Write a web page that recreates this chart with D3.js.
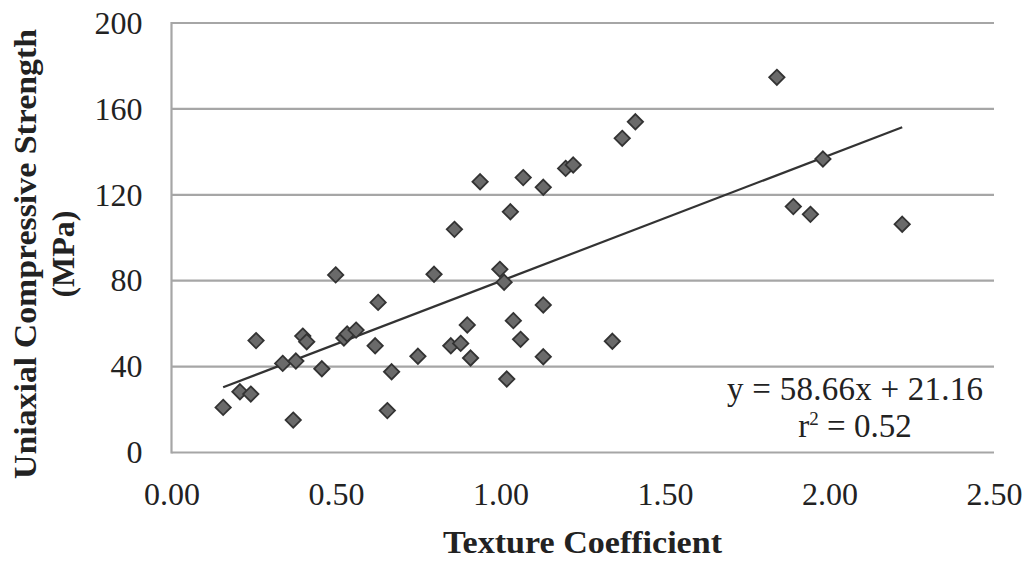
<!DOCTYPE html>
<html><head><meta charset="utf-8">
<script src="https://cdn.jsdelivr.net/npm/d3@7"></script>
<style>body{margin:0;background:#fff}svg{display:block}</style>
</head><body>
<svg id="c" width="1028" height="561"></svg>
<script>
const texture = [0.157,0.208,0.241,0.257,0.338,0.370,0.378,0.399,0.411,0.457,0.499,0.524,0.534,0.561,0.619,0.628,0.656,0.669,0.749,0.798,0.849,0.860,0.879,0.899,0.909,0.938,0.998,1.011,1.019,1.030,1.039,1.061,1.069,1.130,1.130,1.130,1.198,1.221,1.340,1.370,1.410,1.840,1.890,1.942,1.980,2.221];
const ucs = [21.0,28.3,27.2,52.1,41.5,15.1,42.6,54.2,51.6,39.0,82.7,53.3,55.2,57.0,49.7,69.9,19.5,37.6,44.8,83.0,49.7,103.9,50.8,59.4,44.0,126.1,85.3,79.3,34.2,112.1,61.4,52.7,128.0,123.5,68.7,44.6,132.3,133.9,51.8,146.3,154.0,174.7,114.5,110.9,136.7,106.3];
const xTicks = [0,0.5,1,1.5,2,2.5];
const yTicks = [0,40,80,120,160,200];
const slope = 58.66, intercept = 21.16;
const eqText = "y = 58.66x + 21.16";
const r2Text = "0.52";

const svg = d3.select("#c");
const x = d3.scaleLinear().domain([0,2.5]).range([171.5,994]);
const y = d3.scaleLinear().domain([0,200]).range([452.5,23]);
const font = "'Liberation Serif','Times New Roman',serif";
const grid = "#a6a6a6";

// gridlines
svg.append("g").selectAll("line").data(yTicks).join("line")
  .attr("x1", x(0)).attr("x2", x(2.5))
  .attr("y1", d=>y(d)).attr("y2", d=>y(d))
  .attr("stroke", grid).attr("stroke-width", 2.2);
// left axis line
svg.append("line").attr("x1", x(0)).attr("x2", x(0)).attr("y1", y(0)+1).attr("y2", y(200)-1)
  .attr("stroke", grid).attr("stroke-width", 2.2);

// y tick labels
const ya = d3.axisLeft(y).tickValues(yTicks).tickSize(0).tickPadding(29).tickFormat(d3.format("d"));
const gy = svg.append("g").attr("transform", `translate(${x(0)},0)`).call(ya);
gy.select(".domain").remove();
gy.selectAll("text").attr("font-family", font).attr("font-size", 32).attr("fill", "#222");

// x tick labels
const xa = d3.axisBottom(x).tickValues(xTicks).tickSize(0).tickPadding(30).tickFormat(d3.format(".2f"));
const gx = svg.append("g").attr("transform", `translate(0,${y(0)})`).call(xa);
gx.select(".domain").remove();
gx.selectAll("text").attr("font-family", font).attr("font-size", 32).attr("fill", "#222");

// trendline
const xMin = d3.min(texture), xMax = d3.max(texture);
svg.append("line")
  .attr("x1", x(xMin)).attr("y1", y(slope*xMin+intercept))
  .attr("x2", x(xMax)).attr("y2", y(slope*xMax+intercept))
  .attr("stroke", "#333").attr("stroke-width", 2.2);

// points
const sym = d3.symbol().type(d3.symbolDiamond2).size(150);
svg.append("g").selectAll("path").data(texture.map((t,i)=>[t,ucs[i]])).join("path")
  .attr("d", sym)
  .attr("transform", d=>`translate(${x(d[0])},${y(d[1])})`)
  .attr("fill", "#6a6a6a").attr("stroke", "#333").attr("stroke-width", 1.8);

// equation
const eq = svg.append("g").attr("font-family", font).attr("font-size", 33).attr("fill", "#222").attr("text-anchor","middle");
eq.append("text").attr("x", 855).attr("y", 400).attr("textLength", 256).attr("lengthAdjust","spacing").text(eqText);
const t2 = eq.append("text").attr("x", 855).attr("y", 437);
t2.append("tspan").text("r");
t2.append("tspan").attr("font-size", 19).attr("dy", -12).text("2");
t2.append("tspan").attr("dy", 12).text(" = " + r2Text);

// axis titles
svg.append("text").attr("x", 582.5).attr("y", 553).attr("text-anchor","middle")
  .attr("font-family", font).attr("font-weight","bold").attr("font-size", 32).attr("fill","#222")
  .attr("textLength", 279).attr("lengthAdjust","spacingAndGlyphs")
  .text("Texture Coefficient");
const yt = svg.append("g").attr("transform","translate(36,254) rotate(-90)")
  .attr("font-family", font).attr("font-weight","bold").attr("font-size", 32).attr("fill","#222");
yt.append("text").attr("x",0).attr("y",0).attr("text-anchor","middle")
  .attr("textLength", 450).attr("lengthAdjust","spacingAndGlyphs").attr("transform","translate(-225,0)")
  .attr("text-anchor","start").text("Uniaxial Compressive Strength");
yt.append("text").attr("x",0).attr("y",38).attr("text-anchor","middle").text("(MPa)");
</script>
</body></html>
